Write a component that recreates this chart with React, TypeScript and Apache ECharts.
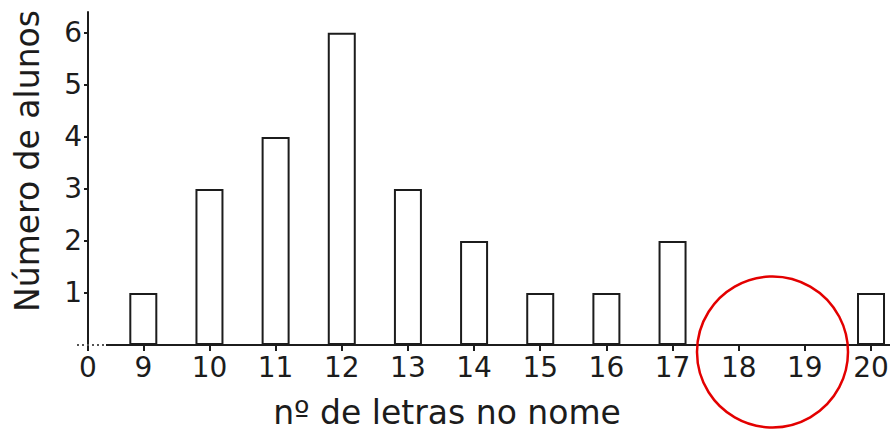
import React, { useEffect, useRef } from "react";
import * as echarts from "echarts";

const letters = [9, 10, 11, 12, 13, 14, 15, 16, 17, 18, 19, 20];
const students = [1, 3, 4, 6, 3, 2, 1, 1, 2, 0, 0, 1];
const yTicks = [1, 2, 3, 4, 5, 6];
const xTickLabels = ["0", "9", "10", "11", "12", "13", "14", "15", "16", "17", "18", "19", "20"];

const X_MIN = 8.164; // position standing in for the "0" label (broken axis)
const X_MAX = 20.287;
const FONT = "DejaVu Sans, Verdana, sans-serif";
const INK = "#1c1c1c";

export default function App() {
  const ref = useRef<HTMLDivElement>(null);
  useEffect(() => {
    document.body.style.margin = "0";
    if (!ref.current) return;
    const chart = echarts.init(ref.current, undefined, { renderer: "svg" });
    const xTickValues = [X_MIN, ...letters];
    chart.setOption({
      animation: false,
      backgroundColor: "#ffffff",
      grid: { left: 88, right: 3, top: 12, bottom: 89 },
      xAxis: {
        type: "value",
        min: X_MIN,
        max: X_MAX,
        axisLine: { show: false },
        splitLine: { show: false },
        axisTick: {
          show: true,
          customValues: xTickValues,
          length: 6,
          lineStyle: { color: INK, width: 2 },
        },
        axisLabel: {
          customValues: xTickValues,
          formatter: (v: number) => {
            const i = xTickValues.findIndex((t) => Math.abs(t - v) < 1e-6);
            return i >= 0 ? xTickLabels[i] : "";
          },
          color: INK,
          fontFamily: FONT,
          fontSize: 28,
          margin: 8,
        },
      },
      yAxis: {
        type: "value",
        min: 0,
        max: 6.4,
        axisLine: { show: true, lineStyle: { color: INK, width: 2 } },
        splitLine: { show: false },
        axisTick: {
          show: true,
          customValues: yTicks,
          length: 4,
          lineStyle: { color: INK, width: 2 },
        },
        axisLabel: {
          customValues: yTicks,
          color: INK,
          fontFamily: FONT,
          fontSize: 28,
          margin: 6,
        },
      },
      series: [
        {
          type: "bar",
          data: letters.map((x, i) => [x, students[i]]),
          barWidth: 28,
          itemStyle: { color: "#ffffff", borderColor: INK, borderWidth: 2 },
        },
      ],
      graphic: [
        {
          type: "line",
          shape: { x1: 106, y1: 345, x2: 890, y2: 345 },
          style: { stroke: INK, lineWidth: 2 },
          z: 10,
        },
        {
          type: "line",
          shape: { x1: 77, y1: 345, x2: 105, y2: 345 },
          style: { stroke: "#555", lineWidth: 2, lineDash: [2, 3] },
          z: 10,
        },
        {
          type: "circle",
          shape: { cx: 772.5, cy: 352, r: 75.5 },
          style: { fill: "none", stroke: "#e30000", lineWidth: 2.5 },
          z: 20,
        },
        {
          type: "text",
          x: 447,
          y: 412,
          style: {
            text: "nº de letras no nome",
            fill: INK,
            font: `33px ${FONT}`,
            align: "center",
            verticalAlign: "middle",
          },
        },
        {
          type: "text",
          x: 27,
          y: 161,
          rotation: Math.PI / 2,
          style: {
            text: "Número de alunos",
            fill: INK,
            font: `33px ${FONT}`,
            align: "center",
            verticalAlign: "middle",
          },
        },
      ],
    });
    return () => chart.dispose();
  }, []);
  return <div ref={ref} style={{ width: 893, height: 434 }} />;
}
